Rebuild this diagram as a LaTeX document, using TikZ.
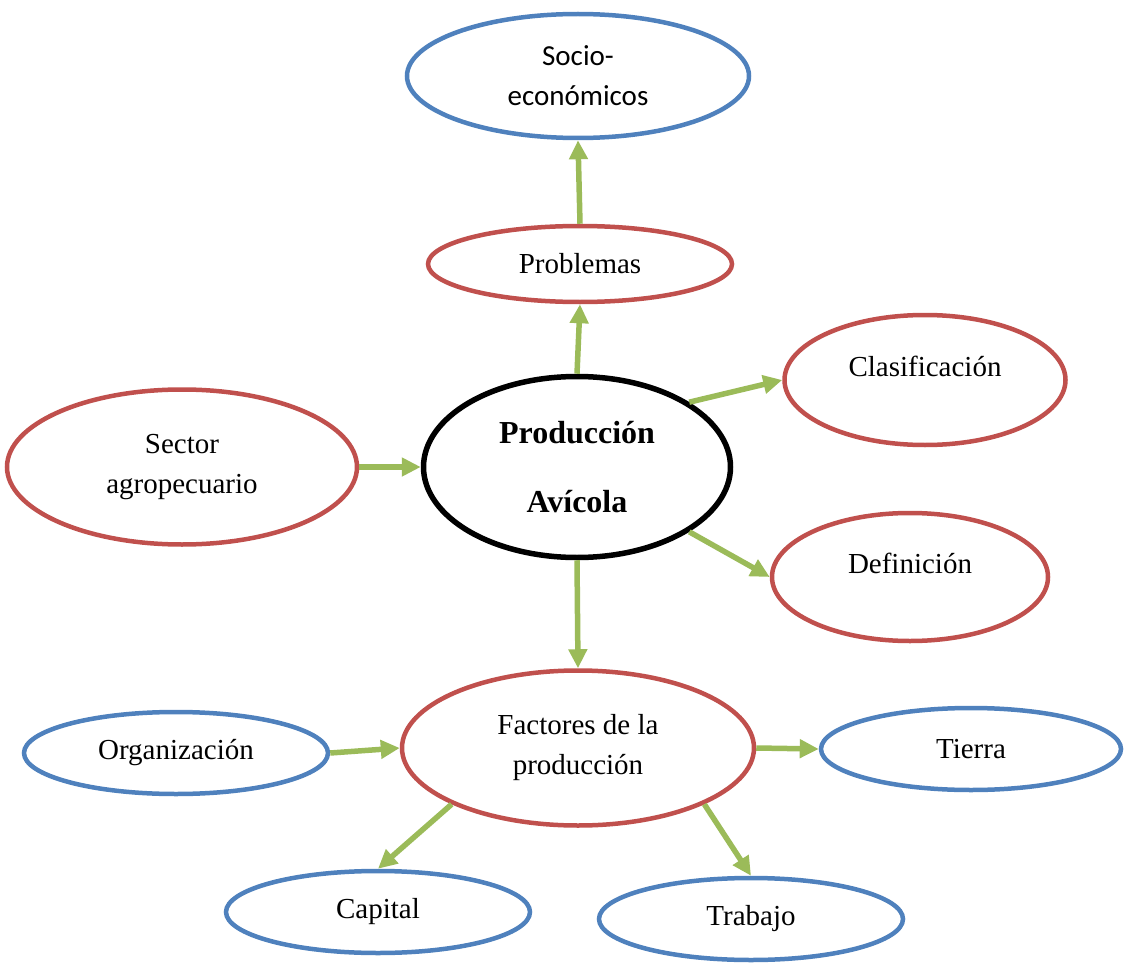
\documentclass[tikz,border=0pt]{standalone}
\usepackage{fontspec}
\setmainfont{Liberation Serif}
\newfontfamily\calibrifont{Carlito}
\usetikzlibrary{shapes.geometric,arrows.meta}

\definecolor{nodeRed}{HTML}{C0504D}
\definecolor{nodeBlue}{HTML}{4F81BD}
\definecolor{arrowGreen}{HTML}{9BBB59}

\providecommand*{\picW}{}
\providecommand*{\picH}{}
\renewcommand*{\picW}{1125}
\renewcommand*{\picH}{963}

\tikzset{
  oval/.style={ellipse,inner sep=0pt,align=center,font=\fontsize{29}{40}\selectfont},
  redNode/.style={oval,draw=nodeRed,line width=4.5pt},
  blueNode/.style={oval,draw=nodeBlue,line width=4.5pt},
  mainNode/.style={oval,draw=black,line width=5.5pt,font=\bfseries\fontsize{32}{69}\selectfont},
  highText/.style={text height=20pt,text depth=28pt},
  arr/.style={draw=arrowGreen,line width=5.5pt,-{Triangle[length=19pt,width=18pt]}}
}

\begin{document}
\begin{tikzpicture}[x=1pt,y=-1pt]
  \useasboundingbox (0,0) rectangle (\picW,\picH);

  % centre
  \node [mainNode,minimum width=307pt,minimum height=181pt] (prod) at (577,467) {Producción\\Avícola};

  % upper branch
  \node [redNode,minimum width=304pt,minimum height=76pt] (prob) at (580,264) {Problemas};
  \node [blueNode,minimum width=342pt,minimum height=124pt,font=\calibrifont\fontsize{29}{40}\selectfont] (socio) at (578,76) {Socio-\\económicos};

  % sides
  \node [redNode,minimum width=350pt,minimum height=155pt] (sector) at (182,467) {Sector\\agropecuario};
  \node [redNode,highText,minimum width=281pt,minimum height=130pt] (clas) at (925,380) {Clasificación};
  \node [redNode,highText,minimum width=276pt,minimum height=128pt] (def) at (910,577) {Definición};

  % factors
  \node [redNode,minimum width=352pt,minimum height=155pt] (fact) at (578,748) {Factores de la\\producción};
  \node [blueNode,minimum width=304pt,minimum height=82pt] (org) at (176,753) {Organización};
  \node [blueNode,minimum width=300pt,minimum height=82pt] (tierra) at (971,749) {Tierra};
  \node [blueNode,minimum width=304pt,minimum height=82pt] (cap) at (378,912) {Capital};
  \node [blueNode,minimum width=304pt,minimum height=82pt] (trab) at (751,919) {Trabajo};

  \draw [arr] (prob.north) -- (socio.south);
  \draw [arr] (prod.north) -- (prob.south);
  \draw [arr] (prod.30) -- (clas.west);
  \draw [arr] (prod.-30) -- (def.west);
  \draw [arr] (sector.east) -- (prod.west);
  \draw [arr] (prod.south) -- (fact.north);
  \draw [arr] (org.east) -- (fact.west);
  \draw [arr] (fact.east) -- (tierra.west);
  \draw [arr] (fact.-156) -- (cap.north);
  \draw [arr] (fact.-24) -- (trab.north);
\end{tikzpicture}
\end{document}
